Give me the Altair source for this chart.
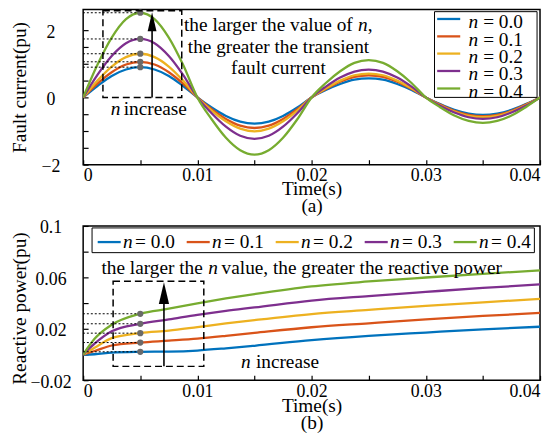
import altair as alt
import pandas as pd

SERIF = "Liberation Serif"
n_labels = ["0.0", "0.1", "0.2", "0.3", "0.4"]
colors = ["#0072BD", "#D95319", "#EDB120", "#7E2F8E", "#77AC30"]

# ---- panel (a): fault current (pu) ----
t_a = [0, 0.00125, 0.0025, 0.00375, 0.005, 0.00625, 0.0075, 0.00875, 0.01,
       0.01125, 0.0125, 0.01375, 0.015, 0.01625, 0.0175, 0.01875, 0.02,
       0.02125, 0.0225, 0.02375, 0.025, 0.02625, 0.0275, 0.02875, 0.03,
       0.03125, 0.0325, 0.03375, 0.035, 0.03625, 0.0375, 0.03875, 0.04]
ia_00 = [0, 0.34, 0.64, 0.83, 0.90, 0.83, 0.64, 0.34, 0,
         -0.30, -0.55, -0.72, -0.78, -0.72, -0.55, -0.30, 0,
         0.22, 0.40, 0.53, 0.57, 0.53, 0.40, 0.22, 0,
         -0.20, -0.37, -0.48, -0.52, -0.48, -0.37, -0.20, 0]
ia_01 = [0, 0.41, 0.75, 0.98, 1.06, 0.98, 0.75, 0.41, 0,
         -0.35, -0.64, -0.84, -0.91, -0.84, -0.64, -0.35, 0,
         0.25, 0.47, 0.61, 0.66, 0.61, 0.47, 0.25, 0,
         -0.21, -0.40, -0.52, -0.56, -0.52, -0.40, -0.21, 0]
ia_02 = [0, 0.50, 0.92, 1.20, 1.30, 1.20, 0.92, 0.50, 0,
         -0.39, -0.71, -0.93, -1.01, -0.93, -0.71, -0.39, 0,
         0.27, 0.50, 0.66, 0.71, 0.66, 0.50, 0.27, 0,
         -0.23, -0.42, -0.55, -0.59, -0.55, -0.42, -0.23, 0]
ia_03 = [0, 0.67, 1.23, 1.61, 1.74, 1.61, 1.23, 0.67, 0,
         -0.47, -0.87, -1.14, -1.23, -1.14, -0.87, -0.47, 0,
         0.32, 0.59, 0.77, 0.83, 0.77, 0.59, 0.32, 0,
         -0.25, -0.45, -0.59, -0.64, -0.59, -0.45, -0.25, 0]
ia_04 = [0, 0.97, 1.78, 2.33, 2.52, 2.33, 1.78, 0.97, 0,
         -0.65, -1.20, -1.57, -1.70, -1.57, -1.20, -0.65, 0,
         0.43, 0.78, 1.03, 1.11, 1.03, 0.78, 0.43, 0,
         -0.29, -0.54, -0.70, -0.76, -0.70, -0.54, -0.29, 0]

# ---- panel (b): reactive power (pu) ----
t_b = [0, 0.001, 0.0025, 0.005, 0.0075, 0.01, 0.0125, 0.015, 0.02, 0.025, 0.03, 0.035, 0.04]
qb_00 = [0, 0.0002, 0.0015, 0.0021, 0.0023, 0.0031, 0.0048, 0.0068, 0.0112, 0.0145, 0.0171, 0.0196, 0.0216]
qb_01 = [0, 0.0027, 0.0070, 0.0093, 0.0108, 0.0124, 0.0145, 0.0168, 0.0212, 0.0243, 0.0273, 0.0300, 0.0323]
qb_02 = [0, 0.0052, 0.0127, 0.0166, 0.0185, 0.0213, 0.0242, 0.0268, 0.0315, 0.0347, 0.0378, 0.0406, 0.0432]
qb_03 = [0, 0.0084, 0.0180, 0.0239, 0.0273, 0.0309, 0.0340, 0.0366, 0.0420, 0.0455, 0.0487, 0.0518, 0.0545]
qb_04 = [0, 0.0122, 0.0231, 0.0317, 0.0356, 0.0398, 0.0436, 0.0470, 0.0530, 0.0568, 0.0599, 0.0628, 0.0654]

x_ticks = [0, 0.005, 0.01, 0.015, 0.02, 0.025, 0.03, 0.035, 0.04]
ya_ticks = [-2, -1.5, -1, -0.5, 0, 0.5, 1, 1.5, 2]
yb_ticks = [-0.02, 0, 0.02, 0.04, 0.06, 0.08, 0.1]
dot_t = 0.005

W = 462
HA = 157
HB = 156


def long(t, series):
    rows = []
    for lab, vals in zip(n_labels, series):
        for ti, vi in zip(t, vals):
            rows.append({"t": ti, "v": vi, "n": lab})
    return pd.DataFrame(rows)


df_a = long(t_a, [ia_00, ia_01, ia_02, ia_03, ia_04])
df_b = long(t_b, [qb_00, qb_01, qb_02, qb_03, qb_04])
one = pd.DataFrame({"k": [0]})


def x_axis(sub, ty, lh):
    return alt.Axis(values=x_ticks, format=".2~f",
                    labelExpr="round(datum.value*1000) % 10 == 0 ? datum.label : ''",
                    domain=False, grid=False, tickSize=5, tickWidth=1.2, tickColor="black",
                    offset=-5, labelFont=SERIF, labelFontSize=18, labelColor="black",
                    labelPadding=2, labelFlush=True, labelOverlap=False,
                    title=["Time(s)", sub], titleFont=SERIF, titleFontSize=19.5,
                    titleFontWeight="normal", titleColor="black", titleBaseline="top",
                    titleAlign="center", titleAngle=0, titleX=W / 2, titleY=ty,
                    titleLineHeight=lh)


def y_axis(title, ticks, fmt, expr, ty):
    return alt.Axis(values=ticks, format=fmt, labelExpr=expr, domain=False, grid=False,
                    tickSize=5, tickWidth=1.2, tickColor="black", offset=-5,
                    labelFont=SERIF, labelFontSize=18, labelColor="black",
                    labelAlign="center", labelBaseline="middle", labelPadding=33,
                    labelOffset=2, labelOverlap=False,
                    title=title, titleFont=SERIF, titleFontSize=19.5,
                    titleFontWeight="normal", titleColor="black", titleAngle=270,
                    titleAlign="center", titleBaseline="middle", titleX=-69.5, titleY=ty)


def txt(s, x, y, italic=False, size=19.5, align="left"):
    return alt.Chart(one).mark_text(
        text=s, font=SERIF, fontSize=size, fontStyle="italic" if italic else "normal",
        align=align, baseline="alphabetic", color="black"
    ).encode(x=alt.value(x), y=alt.value(y))


def rect(x1, x2, y1, y2, dash=None, fill="transparent", sw=1.5):
    kw = dict(fill=fill, stroke="black", strokeWidth=sw)
    if dash:
        kw["strokeDash"] = dash
    return alt.Chart(one).mark_rect(**kw).encode(
        x=alt.value(x1), x2=alt.value(x2), y=alt.value(y1), y2=alt.value(y2))


def arrow(x, y_tip, y_base, head_h):
    shaft = alt.Chart(one).mark_rule(color="black", strokeWidth=1.6).encode(
        x=alt.value(x), y=alt.value(y_base), y2=alt.value(y_tip + head_h * 0.6))
    head = alt.Chart(one).mark_point(
        shape="M0,-1L0.47,1L-0.47,1Z", filled=True, color="black", opacity=1,
        size=head_h * head_h, strokeWidth=0
    ).encode(x=alt.value(x), y=alt.value(y_tip + head_h / 2))
    return [shaft, head]


color_enc = alt.Color("n:N", scale=alt.Scale(domain=n_labels, range=colors), legend=None)


def panel(df, ydom, yax, xax, height):
    xs = alt.Scale(domain=[0, 0.04], nice=False, zero=False)
    ys = alt.Scale(domain=ydom, nice=False, zero=False)
    x = alt.X("t:Q", scale=xs, axis=xax)
    y = alt.Y("v:Q", scale=ys, axis=yax)
    lines = alt.Chart(df).mark_line(strokeWidth=2.3, interpolate="monotone", clip=True).encode(
        x=x, y=y, color=color_enc, order=alt.Order("t:Q"))
    pk = alt.Chart(df).transform_filter(f"abs(datum.t - {dot_t}) < 1e-9")
    rules = pk.mark_rule(color="black", strokeWidth=1, strokeDash=[2, 2]).encode(
        x=x, x2=alt.value(0), y=y)
    dots = pk.mark_circle(color="#6a6a6a", size=40, opacity=1).encode(x=x, y=y)
    return [lines, rules, dots]


# ----- top panel -----
top_layers = panel(
    df_a, [-2, 2.62],
    y_axis("Fault current(pu)", ya_ticks, "~g", "round(datum.value*2) % 4 == 0 ? datum.label : ''", HA / 2),
    x_axis("(a)", 20.5, 17), HA)
top_layers.append(rect(20, 99.7, 1.3, 89, dash=[7, 4]))
top_layers += arrow(69.7, 3, 89, 19)
top_layers += [
    txt("the larger the value of ", 102, 21.7),
    txt("n", 278, 21.7, italic=True),
    txt(",", 287.8, 21.7),
    txt("the greater the transient", 197.5, 44, align="center"),
    txt("fault current", 197.5, 65.7, align="center"),
    txt("n", 28, 107, italic=True),
    txt("increase", 41, 107),
]
# legend (a)
top_layers.append(rect(355.3, 459, 2.3, 89, fill="white", sw=1))
leg_a_y = [9.7, 27.3, 44.7, 62.3, 80]
for lab, col, yy in zip(n_labels, colors, leg_a_y):
    top_layers.append(alt.Chart(one).mark_rule(color=col, strokeWidth=2.3).encode(
        x=alt.value(358), x2=alt.value(381.3), y=alt.value(yy)))
    top_layers.append(txt("n", 389.7, yy + 9.3, italic=True))
    top_layers.append(txt("= " + lab, 404.5, yy + 9.3))

top = alt.layer(*top_layers).properties(width=W, height=HA)

# ----- bottom panel -----
bot_layers = panel(
    df_b, [-0.02, 0.1],
    y_axis("Reactive power(pu)", yb_ticks, ".2~f", "abs(round(datum.value*100) % 4) == 2 ? datum.label : ''", 83),
    x_axis("(b)", 21.5, 17), HB)
bot_layers.append(rect(30.3, 122, 56, 142, dash=[7, 4]))
bot_layers += arrow(81.7, 57, 142, 22)
bot_layers += [
    txt("the larger the ", 18.5, 48.7),
    txt("n", 126.5, 48.7, italic=True),
    txt("value, the greater the reactive power", 140, 48.7),
    txt("n", 159.7, 143.5, italic=True),
    txt("increase", 174.7, 143.5),
]
bot_layers.append(rect(9, 456.3, 2, 27, fill="white", sw=1))
for k, (lab, col) in enumerate(zip(n_labels, colors)):
    x0 = 90 * k
    bot_layers.append(alt.Chart(one).mark_rule(color=col, strokeWidth=2.3).encode(
        x=alt.value(14.7 + x0), x2=alt.value(38 + x0), y=alt.value(16.3)))
    bot_layers.append(txt("n", 40.2 + x0, 22, italic=True))
    bot_layers.append(txt("= " + lab, 52.5 + x0, 22))

bottom = alt.layer(*bot_layers).properties(width=W, height=HB)

chart = alt.vconcat(top, bottom, spacing=2).properties(
    padding={"top": -2, "left": 0, "right": 0, "bottom": 0},
    background="white",
).configure_view(stroke="black", strokeWidth=1.5)

chart.save("out.html", embed_options={"renderer": "svg", "actions": False})
